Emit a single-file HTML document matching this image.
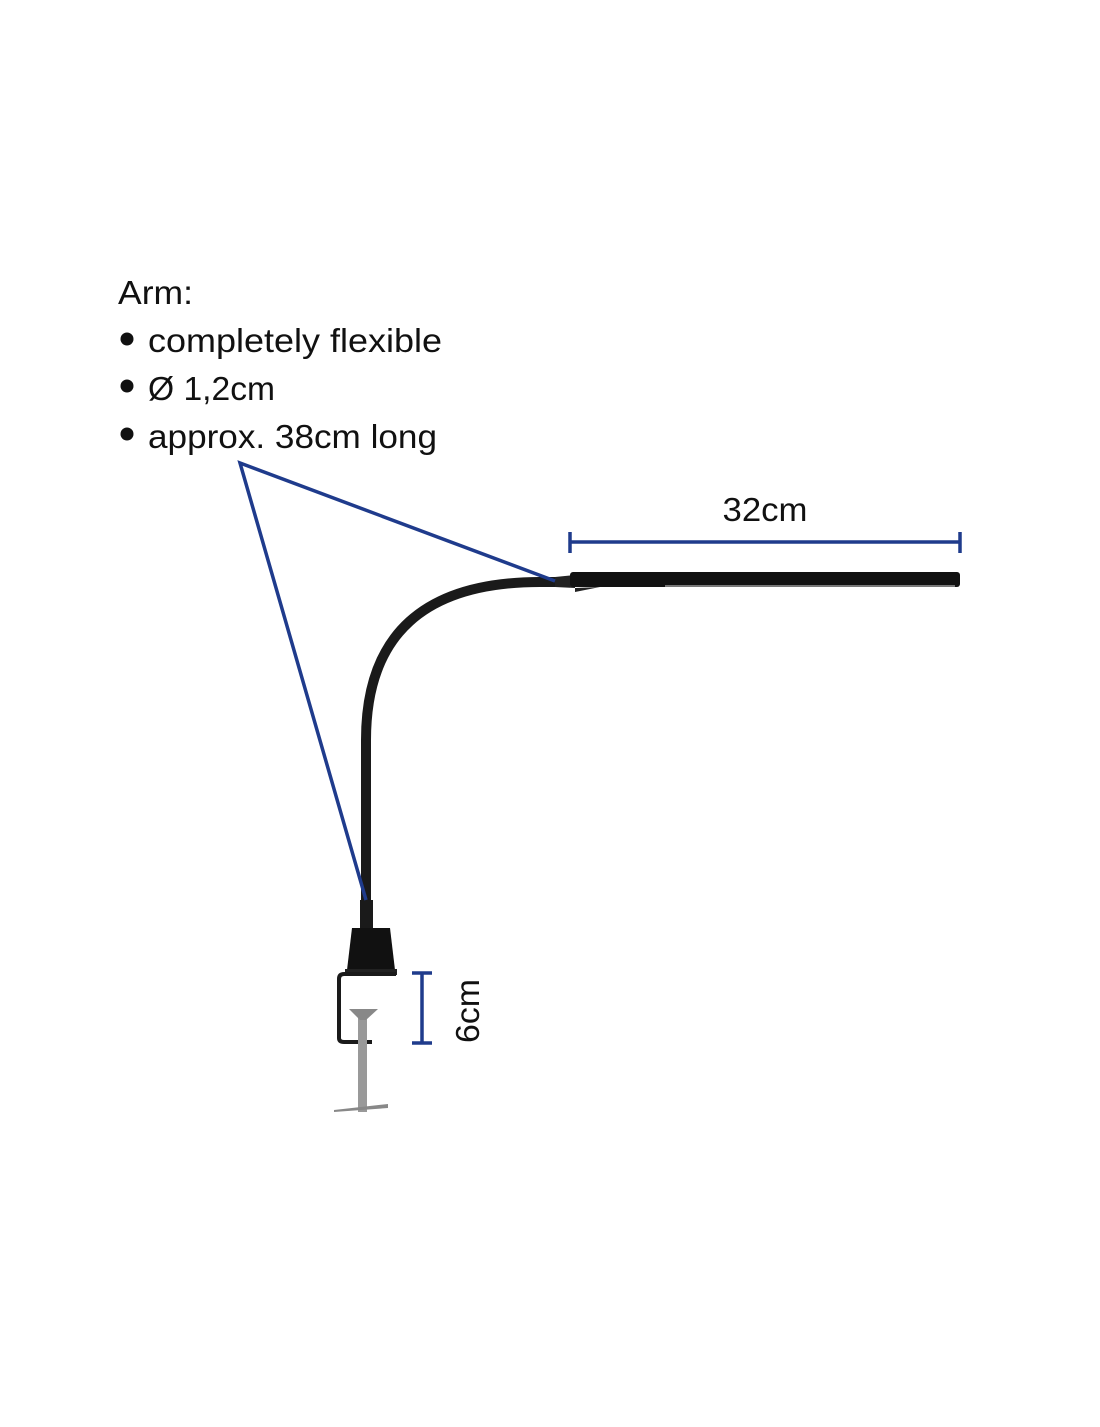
<!DOCTYPE html>
<html><head><style>html,body{margin:0;padding:0;background:#fff;}</style></head>
<body>
<svg width="1100" height="1422" viewBox="0 0 1100 1422" xmlns="http://www.w3.org/2000/svg" font-family="Liberation Sans, sans-serif">
<rect width="1100" height="1422" fill="#fff"/>
<g fill="#111" font-size="33">
<text x="118" y="304" textLength="75" lengthAdjust="spacingAndGlyphs">Arm:</text>
<circle cx="127" cy="339" r="6.5"/>
<text x="148" y="352" textLength="294" lengthAdjust="spacingAndGlyphs">completely flexible</text>
<circle cx="127" cy="386" r="6.5"/>
<text x="148" y="400" textLength="127" lengthAdjust="spacingAndGlyphs">Ø 1,2cm</text>
<circle cx="127" cy="434" r="6.5"/>
<text x="148" y="448" textLength="289" lengthAdjust="spacingAndGlyphs">approx. 38cm long</text>
<text x="765" y="521" text-anchor="middle" textLength="85" lengthAdjust="spacingAndGlyphs">32cm</text>
<text transform="translate(479,1011) rotate(-90)" text-anchor="middle" textLength="64" lengthAdjust="spacingAndGlyphs">6cm</text>
</g>
<!-- arm -->
<path d="M366 905 L366 740 Q366 582 540 582 L575 582" fill="none" stroke="#1a1a1a" stroke-width="10"/>
<path d="M555 577 L575 575 L575 592 L600 587 L575 588 L555 587 Z" fill="#222"/>
<rect x="570" y="572" width="390" height="15" rx="3" fill="#111"/>
<rect x="665" y="585" width="290" height="2" fill="#777"/>
<!-- clamp -->
<rect x="360" y="900" width="13" height="32" fill="#1a1a1a"/>
<path d="M352 928 L390 928 L395 970 L347 970 Z" fill="#111"/>
<rect x="345" y="969" width="52" height="6" fill="#222"/>
<path d="M396 974 L344 974 Q339 974 339 979 L339 1038 Q339 1042 344 1042 L372 1042" fill="none" stroke="#1a1a1a" stroke-width="4"/>
<rect x="358" y="1012" width="9" height="100" fill="#999"/>
<path d="M349 1009 L378 1009 L366 1020 L360 1020 Z" fill="#888"/>
<path d="M334 1110 L388 1104 L388 1108 L334 1112 Z" fill="#888"/>
<!-- blue -->
<g stroke="#1f3b8c" stroke-width="3.5" fill="none">
<path d="M555 581 L240 463 L366 900"/>
<path d="M570 542 L960 542 M570 532 L570 553 M960 532 L960 553"/>
<path d="M422 973 L422 1043 M412 973 L432 973 M412 1043 L432 1043"/>
</g>
</svg>
</body></html>
